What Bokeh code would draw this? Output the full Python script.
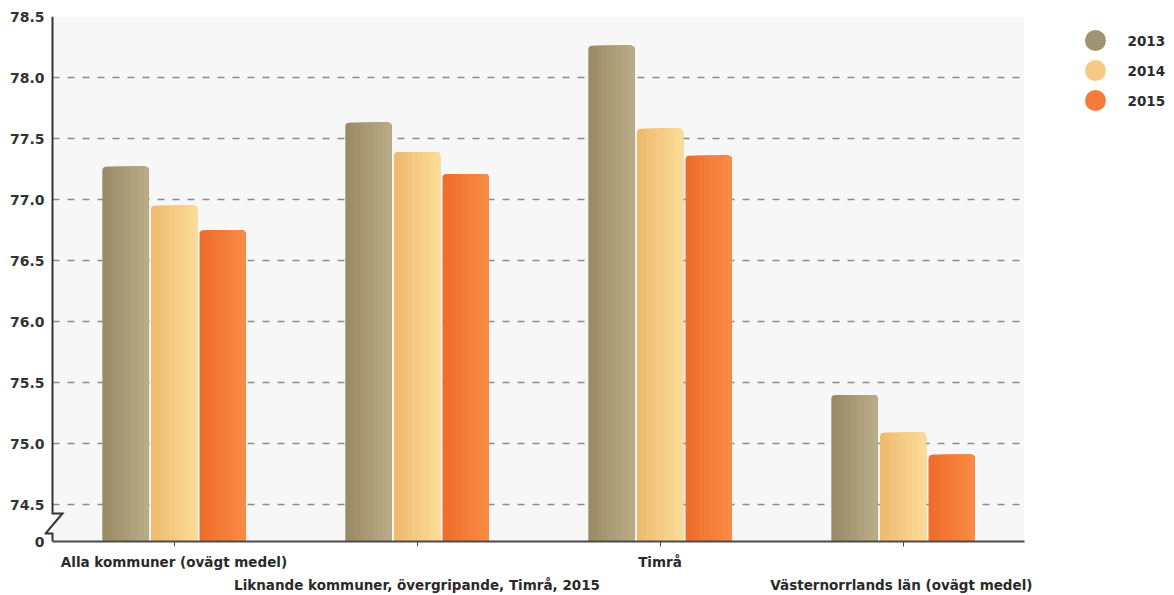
from bokeh.plotting import figure
from bokeh.models import Range1d, FixedTicker, BoxAnnotation
from bokeh.layouts import row
from bokeh.embed import file_html
from bokeh.resources import INLINE
from bokeh.core.properties import value

# ---------------- data ----------------
categories = [
    "Alla kommuner (ovägt medel)",
    "Liknande kommuner, övergripande, Timrå, 2015",
    "Timrå",
    "Västernorrlands län (ovägt medel)",
]
years = ["2013", "2014", "2015"]
v2013 = [77.27, 77.63, 78.26, 75.40]
v2014 = [76.95, 77.39, 77.58, 75.09]
v2015 = [76.75, 77.21, 77.36, 74.91]
y_ticks = [74.5, 75.0, 75.5, 76.0, 76.5, 77.0, 77.5, 78.0, 78.5]
y_tick_labels = ["74.5", "75.0", "75.5", "76.0", "76.5", "77.0", "77.5", "78.0", "78.5"]
floor_label = "0"

# ---------------- styles ----------------
series = [v2013, v2014, v2015]
grad = [("#9a8c66", "#b9ab87"), ("#efbb6f", "#fbda97"), ("#ee6c2c", "#fa8a45")]
legend_colors = ["#a09372", "#f6c984", "#f57b3a"]
FONT = value("DejaVu Sans")

Y_FLOOR = 74.2
Y_TOP = 78.5
FRAME_TOP = 16
FRAME_H = 525
FRAME_BOTTOM = FRAME_TOP + FRAME_H
PX = FRAME_H / (Y_TOP - Y_FLOOR)   # px per y unit
XPX = 243.0                         # px per category
LEFT_PAD = 8                        # white strip left of the plot area (px)


def y_at(screen_py):
    return Y_TOP - (screen_py - FRAME_TOP) / PX


def mix(c1, c2, t):
    a = [int(c1[i:i + 2], 16) for i in (1, 3, 5)]
    b = [int(c2[i:i + 2], 16) for i in (1, 3, 5)]
    return "#%02x%02x%02x" % tuple(round(a[j] + (b[j] - a[j]) * t) for j in range(3))


ncat = len(categories)
p = figure(width=1032, height=595,
           x_range=Range1d(-LEFT_PAD / XPX, ncat),
           y_range=Range1d(Y_FLOOR, Y_TOP), output_backend="svg",
           toolbar_location=None, min_border_left=44, min_border_right=8,
           min_border_top=FRAME_TOP, min_border_bottom=595 - FRAME_BOTTOM,
           background_fill_color="white", border_fill_color="white",
           outline_line_color=None)

# grey plot area (starts at the y axis)
p.add_layout(BoxAnnotation(left=0, right=ncat, fill_color="#f7f7f7",
                           fill_alpha=1, line_color=None, level="image"))

# grid
p.xgrid.visible = False
p.ygrid.ticker = FixedTicker(ticks=y_ticks[:-1])
p.ygrid.grid_line_color = "#8a8a8a"
p.ygrid.grid_line_width = 1.5
p.ygrid.grid_line_dash = "7 8"
p.ygrid.grid_line_dash_offset = 7

# bars with a horizontal gradient, built from overlapping strips
bar_w = 0.19
offsets = [-0.2, 0.0, 0.2]
N = 10
for s, vals in enumerate(series):
    centers = [i + 0.5 + offsets[s] for i in range(ncat)]
    cl, cr = grad[s]
    for k in range(N):
        t = k / (N - 1)
        left = [c - bar_w / 2 + k * bar_w / N for c in centers]
        right = [c + bar_w / 2 for c in centers]
        br = (4 if k == 0 else 0, 4, 0, 0)
        p.quad(left=left, right=right, top=vals, bottom=Y_FLOOR,
               fill_color=mix(cl, cr, t), line_color=None, border_radius=br)

# y axis (line drawn separately, with the break)
yax = p.yaxis[0]
yax.ticker = FixedTicker(ticks=[Y_FLOOR] + y_ticks)
ov = {t: lab for t, lab in zip(y_ticks, y_tick_labels)}
ov[Y_FLOOR] = floor_label
yax.major_label_overrides = ov
yax.axis_line_color = None
yax.major_tick_line_color = None
yax.minor_tick_line_color = None
yax.major_tick_out = 0
yax.major_label_standoff = 0
yax.major_label_text_font = "DejaVu Sans"
yax.major_label_text_font_style = "bold"
yax.major_label_text_font_size = "14px"
yax.major_label_text_color = "#333333"

b_top = y_at(513)
b_bot = y_at(533)
zx_r = 10 / XPX
zx_l = -7 / XPX
p.line(x=[0, 0, zx_r, zx_l, 0, 0], y=[Y_TOP, b_top, b_top, b_bot, b_bot, Y_FLOOR],
       line_color="#333333", line_width=2, line_join="miter")

# x axis with staggered category labels
xax = p.xaxis[0]
xax.bounds = (0, ncat)
xax.ticker = FixedTicker(ticks=[i + 0.5 for i in range(ncat)])
xax.major_label_overrides = {
    i + 0.5: (cat if i % 2 == 0 else "\n" + cat) for i, cat in enumerate(categories)
}
xax.axis_line_color = "#4a4a4a"
xax.axis_line_width = 2
xax.major_tick_line_color = "#4a4a4a"
xax.major_tick_in = 0
xax.major_tick_out = 5
xax.minor_tick_line_color = None
xax.major_label_standoff = 7
xax.major_label_text_font = "DejaVu Sans"
xax.major_label_text_font_style = "bold"
xax.major_label_text_font_size = "13.5px"
xax.major_label_text_line_height = 1.45
xax.major_label_text_color = "#2a2a2a"

# legend panel (its frame is aligned with the main frame by the row layout,
# so the y range maps directly onto page pixel rows)
lw = 1174 - 1032
lg = figure(width=lw, height=595, x_range=Range1d(0, lw),
            y_range=Range1d(FRAME_BOTTOM, FRAME_TOP),
            output_backend="svg", toolbar_location=None,
            x_axis_location=None, y_axis_location=None,
            min_border=0, min_border_top=FRAME_TOP,
            min_border_bottom=595 - FRAME_BOTTOM, outline_line_color=None,
            background_fill_color="white", border_fill_color="white")
lg.grid.visible = False
ly = [40 + 30 * i for i in range(len(years))]
lg.scatter(x=[63] * len(years), y=ly, size=21, marker="circle",
           fill_color=legend_colors, line_color=None)
lg.text(x=[95] * len(years), y=ly, text=years, text_font=FONT,
        text_font_style="bold", text_font_size="13.5px", text_baseline="middle",
        text_color="#2a2a2a")

layout = row(p, lg)
open("out.html", "w").write(file_html(layout, INLINE))
